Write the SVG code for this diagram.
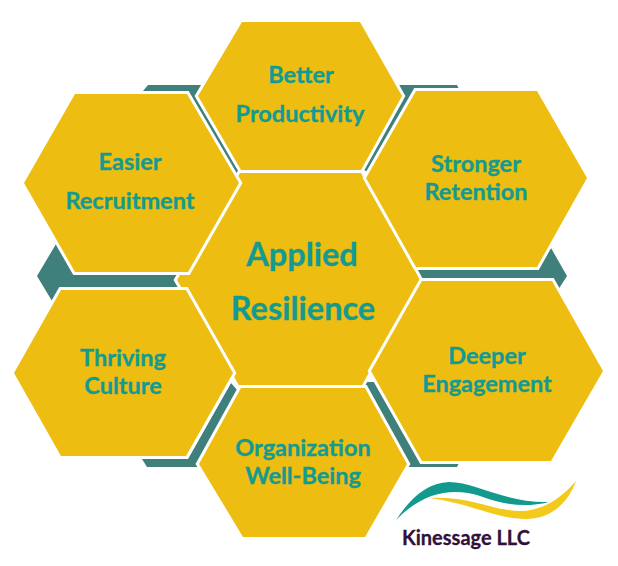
<svg xmlns="http://www.w3.org/2000/svg" width="618" height="566" viewBox="0 0 618 566">
<style>
.hex{fill:#edbd11;stroke:#fff;stroke-width:6;paint-order:stroke fill;stroke-linejoin:miter}
.band{fill:#3f7f7c}
text{font-family:"Lato","Liberation Sans",sans-serif;font-weight:700;fill:#139a92;text-anchor:middle;stroke:#139a92;stroke-width:.3}
.s{font-size:23.5px}
.b{font-size:32.5px}
</style>
<rect width="618" height="566" fill="#fff"/>
<g id="connectors">
<polygon class="band" points="143,91 148,85 204,85 197,96 240,172 237,175 187,91"/>
<polygon class="band" points="56,244 37,276 52,301 61,288 182,288 182,270 75,270"/>
<polygon class="band" points="399,85 457,85 459,89 417,89 367,172 362,168 403,96"/>
<polygon class="band" points="551,248 567,276 558,290 550,278 420,278 412,266 536,266"/>
<polygon class="band" points="231,383 238,391 199,462 199,467 147,467 142,459 188,459"/>
<polygon class="band" points="363,382 375,382 424,463 459,463 457,467 408,467 364,390"/>
</g>
<g id="center"><polygon class="hex" points="240,173 361,173 420,280 361,387 240,387 177,280"/>
<text class="b" x="302" y="266">Applied</text><text class="b" x="303" y="320">Resilience</text></g>
<g id="better"><polygon class="hex" points="242,22 360,22 402,96 361,170 241,170 198,96"/>
<text class="s" x="301" y="83">Better</text><text class="s" x="300" y="122">Productivity</text></g>
<g id="easier"><polygon class="hex" points="75,94 187,94 239,183 188,272 75,272 24,183"/>
<text class="s" x="130" y="170">Easier</text><text class="s" x="130" y="209">Recruitment</text></g>
<g id="stronger"><polygon class="hex" points="416,91 537,91 587,178 537,267 416,267 366,178"/>
<text class="s" x="476" y="172">Stronger</text><text class="s" x="476" y="200">Retention</text></g>
<g id="deeper"><polygon class="hex" points="422,281 552,281 603,371 551,461 422,461 371,371"/>
<text class="s" x="487" y="364">Deeper</text><text class="s" x="487" y="392">Engagement</text></g>
<g id="thriving"><polygon class="hex" points="61,290 186,290 233,373 186,456 61,456 14,373"/>
<text class="s" x="123" y="366">Thriving</text><text class="s" x="123" y="394">Culture</text></g>
<g id="organization"><polygon class="hex" points="241,388 365,388 407,464 365,537 243,537 199,464"/>
<text class="s" x="303" y="456">Organization</text><text class="s" x="303" y="484">Well-Being</text></g>
<g id="logo">
<path d="M396,520C412,496 428,483 449,482C475,482 505,503 549,502C525,508 505,505 480,496C455,488 425,490 396,520Z" fill="#139a8e"/>
<path d="M429,498C470,495 495,512 522,511C545,510 562,497 576,481C567,506 548,519 526,519C495,519 470,503 429,498Z" fill="#f3c91c"/>
<text x="466" y="545" style="font-size:20px;fill:#32103c;stroke:#32103c">Kinessage LLC</text>
</g>
</svg>
